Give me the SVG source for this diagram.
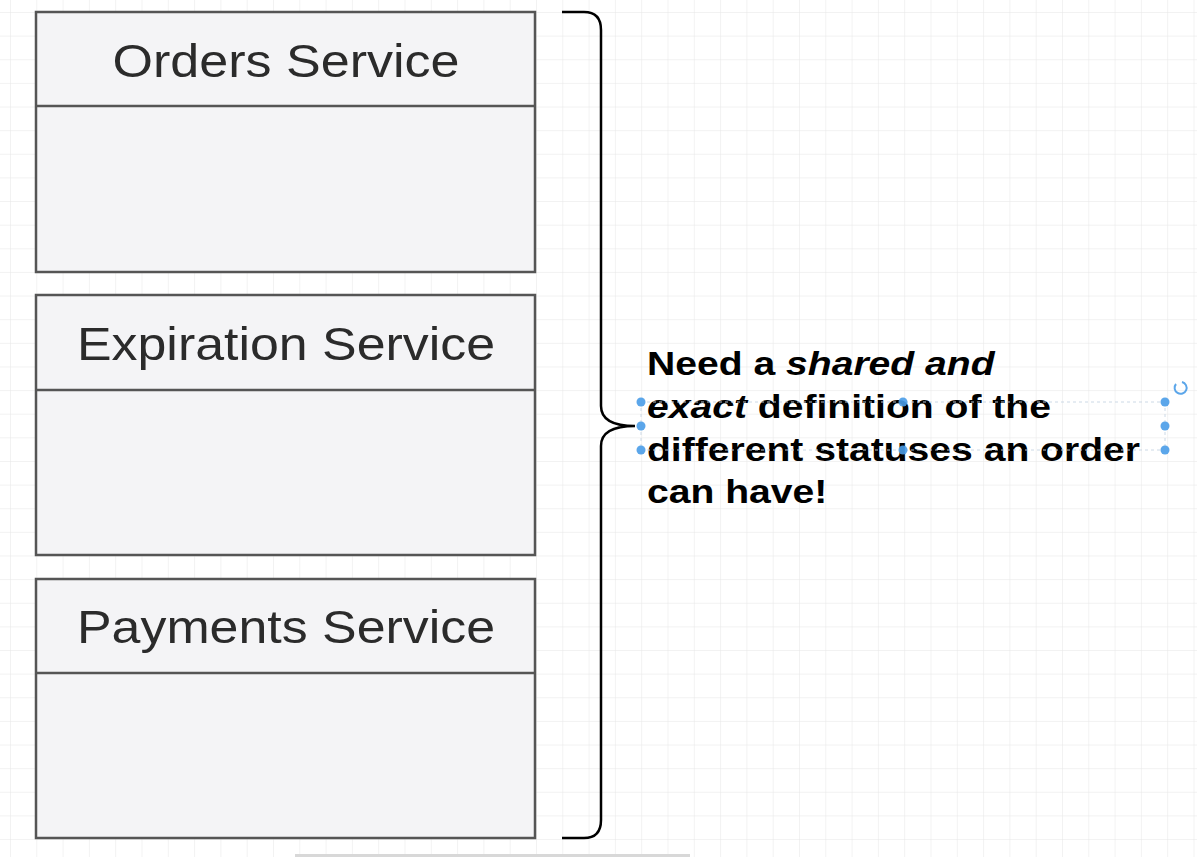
<svg xmlns="http://www.w3.org/2000/svg" width="1197" height="857" viewBox="0 0 1197 857">
<defs>
<pattern id="grid" patternUnits="userSpaceOnUse" x="10" y="12" width="26.3" height="23.63">
<path d="M0 0V23.63M0 0H26.3" fill="none" stroke="#e6e6e6" stroke-width="1"/>
</pattern>
<style>
.box{fill:#f4f4f6;stroke:#555;stroke-width:2.5}
.div{stroke:#555;stroke-width:2.5}
.title{font-family:"Liberation Sans",Arial,sans-serif;font-size:47px;fill:#2b2b2b;text-anchor:middle}
.note{font-family:"Liberation Sans",Arial,sans-serif;font-size:34px;font-weight:bold;fill:#000}
.h{fill:#4a9de8}
</style>
</defs>
<rect width="1197" height="857" fill="#fff"/>
<rect width="1197" height="857" fill="url(#grid)"/>
<g id="orders">
<rect class="box" x="36" y="12" width="499" height="260"/>
<line class="div" x1="36" y1="106" x2="535" y2="106"/>
<text class="title" x="286" y="77" textLength="347" lengthAdjust="spacingAndGlyphs">Orders Service</text>
</g>
<g id="expiration">
<rect class="box" x="36" y="295" width="499" height="260"/>
<line class="div" x1="36" y1="390" x2="535" y2="390"/>
<text class="title" x="286" y="360" textLength="418" lengthAdjust="spacingAndGlyphs">Expiration Service</text>
</g>
<g id="payments">
<rect class="box" x="36" y="579" width="499" height="259"/>
<line class="div" x1="36" y1="673" x2="535" y2="673"/>
<text class="title" x="286" y="643" textLength="418" lengthAdjust="spacingAndGlyphs">Payments Service</text>
</g>
<g id="connectors">
<path d="M562 12H584Q601 12 601 30V406Q601 426 635 426Q601 426 601 446V820Q601 838 584 838H562" fill="none" stroke="#000" stroke-width="2.5"/>
</g>
<g id="note">
<g transform="translate(647,0) scale(1.15,1)">
<text class="note" x="0" y="375">Need a <tspan font-style="italic">shared and</tspan></text>
<text class="note" x="0" y="418"><tspan font-style="italic">exact</tspan> definition of the</text>
<text class="note" x="0" y="461">different statuses an order</text>
<text class="note" x="0" y="503">can have!</text>
</g>
</g>
<g id="selection" opacity="0.9">
<path d="M641 402H1165M641 450H1165M641 402V450M1165 402V450" fill="none" stroke="#c8d6e4" stroke-width="1" stroke-dasharray="3 3"/>
<circle class="h" cx="641" cy="402" r="4.5"/>
<circle class="h" cx="641" cy="426" r="4.5"/>
<circle class="h" cx="641" cy="450" r="4.5"/>
<circle class="h" cx="903" cy="402" r="4.5"/>
<circle class="h" cx="903" cy="450" r="4.5"/>
<circle class="h" cx="1165" cy="402" r="4.5"/>
<circle class="h" cx="1165" cy="426" r="4.5"/>
<circle class="h" cx="1165" cy="450" r="4.5"/>
<path d="M1176 384A6 6 0 1 0 1182 382" fill="none" stroke="#4a9de8" stroke-width="2"/>
</g>
<rect x="295" y="854" width="395" height="3" fill="#d8d8d8"/>
</svg>
